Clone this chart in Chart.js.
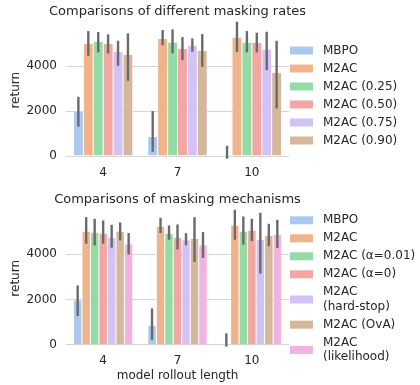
<!DOCTYPE html>
<html>
<head>
<meta charset="utf-8">
<script src="https://cdn.jsdelivr.net/npm/chart.js@4/dist/chart.umd.min.js"></script>
<style>
html, body { margin: 0; padding: 0; background: #fff; }
#wrap { position: relative; width: 420px; height: 385px; }
.panel { position: absolute; left: 0; width: 420px; }
#top { top: 0; height: 190px; }
#bottom { top: 190px; height: 195px; }
</style>
</head>
<body>
<div id="wrap">
  <div class="panel" id="top"><canvas id="rates"></canvas></div>
  <div class="panel" id="bottom"><canvas id="mechs"></canvas></div>
</div>
<script>
// x categories and y ticks
const rolloutLengths = ['4', '7', '10'];
const yTicks = [0, 2000, 4000];

// seaborn pastel (desaturated)
const palette = ['#abc9ed', '#f0b48c', '#94dba6', '#f2a7a3', '#d3c3f5', '#d5b89c', '#efb4df'];

// top: masking rates
const rateNames = ['MBPO', 'M2AC', 'M2AC (0.25)', 'M2AC (0.50)', 'M2AC (0.75)', 'M2AC (0.90)'];
const rateMeans = [
  [1955, 844, -20],
  [4990, 5215, 5274],
  [5066, 5050, 5050],
  [4990, 4755, 5036],
  [4622, 4919, 4740],
  [4489, 4666, 3703]
];
const rateLow = [
  [1300, 191, -118],
  [4457, 4919, 4622],
  [4608, 4563, 4608],
  [4563, 4266, 4608],
  [4013, 4636, 3822],
  [3346, 3970, 2120]
];
const rateHigh = [
  [2635, 2000, 458],
  [5555, 5600, 5970],
  [5510, 5630, 5555],
  [5408, 5288, 5480],
  [5124, 5230, 5525],
  [5452, 5422, 5124]
];

// bottom: masking mechanisms
const mechNames = ['MBPO', 'M2AC', 'M2AC (α=0.01)', 'M2AC (α=0)', 'M2AC\n(hard-stop)', 'M2AC (OvA)', 'M2AC\n(likelihood)'];
const mechMeans = [
  [1978, 850, -10],
  [5011, 5231, 5275],
  [4967, 4908, 5011],
  [4923, 4733, 5055],
  [4718, 4616, 4645],
  [5011, 4688, 4821],
  [4440, 4396, 4865]
];
const mechLow = [
  [1275, 220, -73],
  [4470, 4937, 4645],
  [4396, 4645, 4425],
  [4470, 4220, 4586],
  [4294, 4396, 3150],
  [4616, 3662, 4367],
  [3987, 3838, 4279]
];
const mechHigh = [
  [2624, 1613, 514],
  [5640, 5612, 5965],
  [5568, 5275, 5671],
  [5495, 5319, 5568],
  [5304, 4937, 5832],
  [5407, 5640, 5348],
  [4937, 4981, 5524]
];

const FONT = 'DejaVu Sans';
const INK = '#262626';

// error bars, drawn from the dataset's low/high through the y scale
const errorBars = {
  id: 'errorBars',
  afterDatasetsDraw(chart) {
    const ctx = chart.ctx;
    const y = chart.scales.y;
    ctx.save();
    ctx.strokeStyle = '#6a6a6a';
    ctx.lineWidth = 2.4;
    chart.data.datasets.forEach((ds, i) => {
      chart.getDatasetMeta(i).data.forEach((bar, j) => {
        ctx.beginPath();
        ctx.moveTo(bar.x, y.getPixelForValue(ds.errLow[j]));
        ctx.lineTo(bar.x, y.getPixelForValue(ds.errHigh[j]));
        ctx.stroke();
      });
    });
    ctx.restore();
  }
};

// title over the plot area and legend on the right
const decor = {
  id: 'decor',
  afterDraw(chart, args, opts) {
    const ctx = chart.ctx;
    const area = chart.chartArea;
    ctx.save();
    ctx.fillStyle = INK;
    ctx.font = '13px "' + FONT + '"';
    ctx.textAlign = 'center';
    ctx.textBaseline = 'middle';
    ctx.fillText(opts.title, (area.left + area.right) / 2, opts.titleY);

    ctx.font = '12px "' + FONT + '"';
    ctx.textAlign = 'left';
    let y = opts.legendY;
    let prevH = null;
    chart.data.datasets.forEach((ds) => {
      const lines = ds.label.split('\n');
      const h = 18 + (lines.length - 1) * 14.4;
      if (prevH !== null) y += (prevH + h) / 2;
      prevH = h;
      ctx.fillStyle = ds.backgroundColor;
      ctx.fillRect(290, y - 4, 23, 8);
      ctx.fillStyle = INK;
      lines.forEach((t, k) => {
        ctx.fillText(t, 323, y + (k - (lines.length - 1) / 2) * 14.4);
      });
    });
    ctx.restore();
  }
};

function makeChart(id, names, means, lows, highs, cfg) {
  return new Chart(document.getElementById(id), {
    type: 'bar',
    data: {
      labels: rolloutLengths,
      datasets: names.map((n, i) => ({
        label: n,
        data: means[i],
        errLow: lows[i],
        errHigh: highs[i],
        backgroundColor: palette[i],
        borderColor: '#ffffff',
        borderWidth: { left: 0.5, right: 0.5, top: 0, bottom: 0 },
        categoryPercentage: 0.8,
        barPercentage: 1.0
      }))
    },
    options: {
      responsive: true,
      maintainAspectRatio: false,
      animation: false,
      layout: { padding: { left: 0, right: 131, top: cfg.top, bottom: 0 } },
      plugins: {
        legend: { display: false },
        title: { display: false },
        tooltip: { enabled: false },
        decor: { title: cfg.title, titleY: cfg.titleY, legendY: cfg.legendY }
      },
      scales: {
        x: {
          grid: { display: false, drawTicks: false },
          border: { display: false },
          ticks: { padding: 7, color: INK, font: { family: FONT, size: 12 } },
          afterFit: (ax) => { ax.height = cfg.xHeight; },
          title: {
            display: !!cfg.xTitle,
            text: cfg.xTitle || '',
            color: INK,
            font: { family: FONT, size: 12 },
            padding: { top: 0, bottom: 2 }
          }
        },
        y: {
          min: cfg.yMin,
          max: cfg.yMax,
          afterBuildTicks: (ax) => { ax.ticks = yTicks.map(v => ({ value: v })); },
          afterFit: (ax) => { ax.width = 66; },
          border: { display: false },
          grid: { color: '#d6d6d6', lineWidth: 1, drawTicks: false },
          ticks: {
            padding: 9, color: INK, font: { family: FONT, size: 12 },
            callback: (v) => String(v)
          },
          title: {
            display: true,
            text: 'return',
            color: INK,
            font: { family: FONT, size: 12 },
            padding: { top: 9, bottom: 0 }
          }
        }
      }
    },
    plugins: [errorBars, decor]
  });
}

makeChart('rates', rateNames, rateMeans, rateLow, rateHigh, {
  title: 'Comparisons of different masking rates',
  titleY: 12, legendY: 50.5,
  top: 21.5, xHeight: 31, yMin: -130, yMax: 5980
});

makeChart('mechs', mechNames, mechMeans, mechLow, mechHigh, {
  title: 'Comparisons of masking mechanisms',
  titleY: 10, legendY: 30.3,
  top: 19.8, xHeight: 38.2, yMin: -80, yMax: 5965,
  xTitle: 'model rollout length'
});
</script>
</body>
</html>
